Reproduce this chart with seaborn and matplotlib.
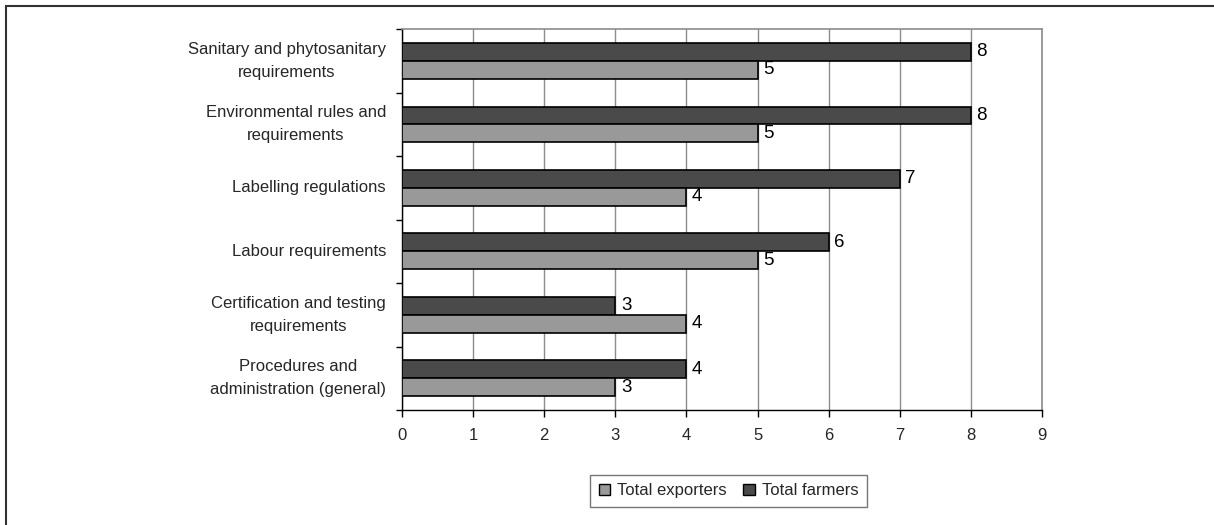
import matplotlib
matplotlib.use("Agg")
import matplotlib.pyplot as plt
from matplotlib.patches import Rectangle, Patch
from matplotlib.ticker import FixedLocator
import pandas as pd
import seaborn as sns

categories = [
    "Sanitary and phytosanitary\nrequirements",
    "Environmental rules and\nrequirements",
    "Labelling regulations",
    "Labour requirements",
    "Certification and testing\nrequirements",
    "Procedures and\nadministration (general)",
]
total_farmers = [8, 8, 7, 6, 3, 4]
total_exporters = [5, 5, 4, 5, 4, 3]
series_names = ["Total farmers", "Total exporters"]
x_ticks = list(range(0, 10))

colors = {"Total farmers": "#4a4a4a", "Total exporters": "#999999"}

df = pd.DataFrame({
    "category": categories * 2,
    "value": total_farmers + total_exporters,
    "series": [series_names[0]] * len(categories) + [series_names[1]] * len(categories),
})

sns.set_theme(style="white")
plt.rcParams["font.family"] = ["Liberation Sans", "DejaVu Sans"]
plt.rcParams["font.size"] = 12

fig = plt.figure(figsize=(12.14, 5.25), dpi=100)
ax = fig.add_axes([0.3311, 0.219, 0.5272, 0.7257])

sns.barplot(
    data=df, y="category", x="value", hue="series",
    order=categories, hue_order=series_names, palette=colors,
    orient="h", width=0.56, edgecolor="black", linewidth=1.2,
    legend=False, ax=ax, zorder=3,
)

# value labels to the right of each bar
for container in ax.containers:
    ax.bar_label(container, labels=[f"{v:g}" for v in container.datavalues],
                 padding=4, fontsize=13.5, color="black")

ax.set_xlim(0, 9)
ax.set_ylim(len(categories) - 0.5, -0.5)
ax.set_xticks(x_ticks)
ax.set_xticklabels([str(t) for t in x_ticks], fontsize=12)
ax.xaxis.grid(True, color="#8c8c8c", linewidth=1.0, zorder=0)
ax.yaxis.grid(False)
ax.set_axisbelow(True)
ax.set_xlabel("")
ax.set_ylabel("")

ax.tick_params(axis="x", direction="out", length=5, width=1, color="black",
               pad=8, bottom=True)
ax.tick_params(axis="y", which="major", length=0, pad=11.5)
ax.yaxis.set_minor_locator(FixedLocator([i - 0.5 for i in range(len(categories) + 1)]))
ax.tick_params(axis="y", which="minor", direction="out", length=4, width=1,
               color="black", left=True)
for lbl in ax.get_yticklabels():
    lbl.set_multialignment("center")
    lbl.set_fontsize(12)
    lbl.set_linespacing(1.68)
    lbl.set_verticalalignment("center")

for side in ("left", "bottom"):
    ax.spines[side].set_color("black")
    ax.spines[side].set_linewidth(1.0)
for side in ("top", "right"):
    ax.spines[side].set_color("#8c8c8c")
    ax.spines[side].set_linewidth(1.2)

handles = [
    Patch(facecolor=colors["Total exporters"], edgecolor="black", linewidth=1.0, label="Total exporters"),
    Patch(facecolor=colors["Total farmers"], edgecolor="black", linewidth=1.0, label="Total farmers"),
]
leg = fig.legend(
    handles=handles, loc="center", bbox_to_anchor=(0.600, 0.0648), ncol=2,
    frameon=True, fancybox=False, fontsize=12, handlelength=0.7,
    handleheight=0.7, handletextpad=0.4, columnspacing=1.0, borderpad=0.5,
)
leg.get_frame().set_edgecolor("#555555")
leg.get_frame().set_linewidth(1.0)

# outer frame around the whole chart
fig.patches.append(Rectangle((6 / 1214, -0.05), 1.1, 1 - 6 / 525 + 0.05,
                             transform=fig.transFigure, fill=False,
                             edgecolor="#333333", linewidth=1.5))

fig.savefig("out.png", dpi=100)
